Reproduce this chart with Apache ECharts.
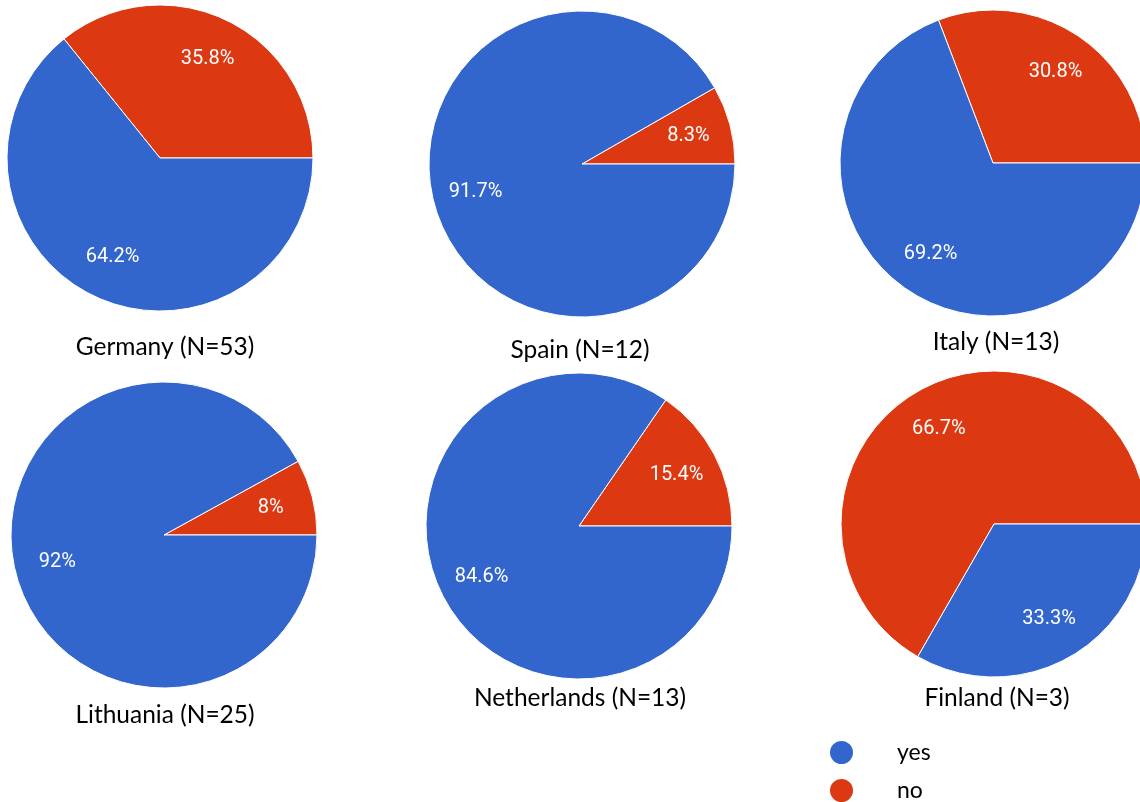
<!DOCTYPE html>
<html>
<head>
<meta charset="utf-8">
<script src="https://cdn.jsdelivr.net/npm/echarts@6/dist/echarts.min.js"></script>
<style>
  html, body { margin: 0; padding: 0; background: #fff; }
  #chart { width: 1140px; height: 802px; }
</style>
</head>
<body>
<div id="chart"></div>
<script>
// Share of answers per country (percent)
const countries = ['Germany (N=53)', 'Spain (N=12)', 'Italy (N=13)',
                   'Lithuania (N=25)', 'Netherlands (N=13)', 'Finland (N=3)'];
const noValues  = [35.8, 8.3, 30.8, 8, 15.4, 66.7];
const yesValues = [64.2, 91.7, 69.2, 92, 84.6, 33.3];
const answerNames = ['yes', 'no'];

// Layout of each pie: centre and radius in pixels, plus caption position
const pieCenters = [[160, 158], [582, 164], [993, 163], [164, 535], [579, 526], [994, 524]];
const pieRadius = 153;
const captionPos = [[165, 347], [580, 350], [996, 342], [165, 715], [580, 698], [997, 698]];

const COLORS = { yes: '#3366CC', no: '#DC3912' };

const series = [];
countries.forEach((name, i) => {
  const data = [
    { name: 'no', value: noValues[i], itemStyle: { color: COLORS.no } },
    { name: 'yes', value: yesValues[i], itemStyle: { color: COLORS.yes } }
  ];
  // filled pie
  series.push({
    type: 'pie',
    center: pieCenters[i],
    radius: [0, pieRadius],
    startAngle: 0,
    clockwise: false,
    silent: true,
    animation: false,
    label: { show: false },
    labelLine: { show: false },
    itemStyle: { borderColor: '#fff', borderWidth: 1 },
    data: data
  });
  // transparent ring carrying the percentage labels
  series.push({
    type: 'pie',
    center: pieCenters[i],
    radius: [pieRadius * 0.4, pieRadius],
    startAngle: 0,
    clockwise: false,
    silent: true,
    animation: false,
    label: {
      show: true,
      position: 'inside',
      color: '#fff',
      fontFamily: 'Roboto',
      fontSize: 20,
      formatter: p => p.value + '%'
    },
    labelLine: { show: false },
    itemStyle: { color: 'rgba(0,0,0,0)' },
    data: data.map(d => ({ name: d.name, value: d.value, itemStyle: { color: 'rgba(0,0,0,0)' } }))
  });
});

const captions = countries.map((name, i) => ({
  type: 'text',
  x: captionPos[i][0],
  y: captionPos[i][1],
  style: {
    text: name,
    fill: '#000',
    font: '24.5px Lato',
    textAlign: 'center',
    textVerticalAlign: 'middle'
  }
}));

const chart = echarts.init(document.getElementById('chart'), null, { renderer: 'canvas' });
chart.setOption({
  backgroundColor: '#fff',
  animation: false,
  color: [COLORS.yes, COLORS.no],
  legend: {
    data: answerNames.map(n => ({ name: n, itemStyle: { color: COLORS[n] } })),
    orient: 'vertical',
    left: 828,
    top: 739,
    height: 100,
    padding: 0,
    icon: 'circle',
    itemWidth: 25,
    itemHeight: 25,
    itemGap: 11,
    selectedMode: false,
    textStyle: { fontFamily: 'Lato', fontSize: 23, lineHeight: 25, color: '#000', padding: [0, 0, 0, 38] }
  },
  graphic: captions,
  series: series
});
</script>
</body>
</html>
